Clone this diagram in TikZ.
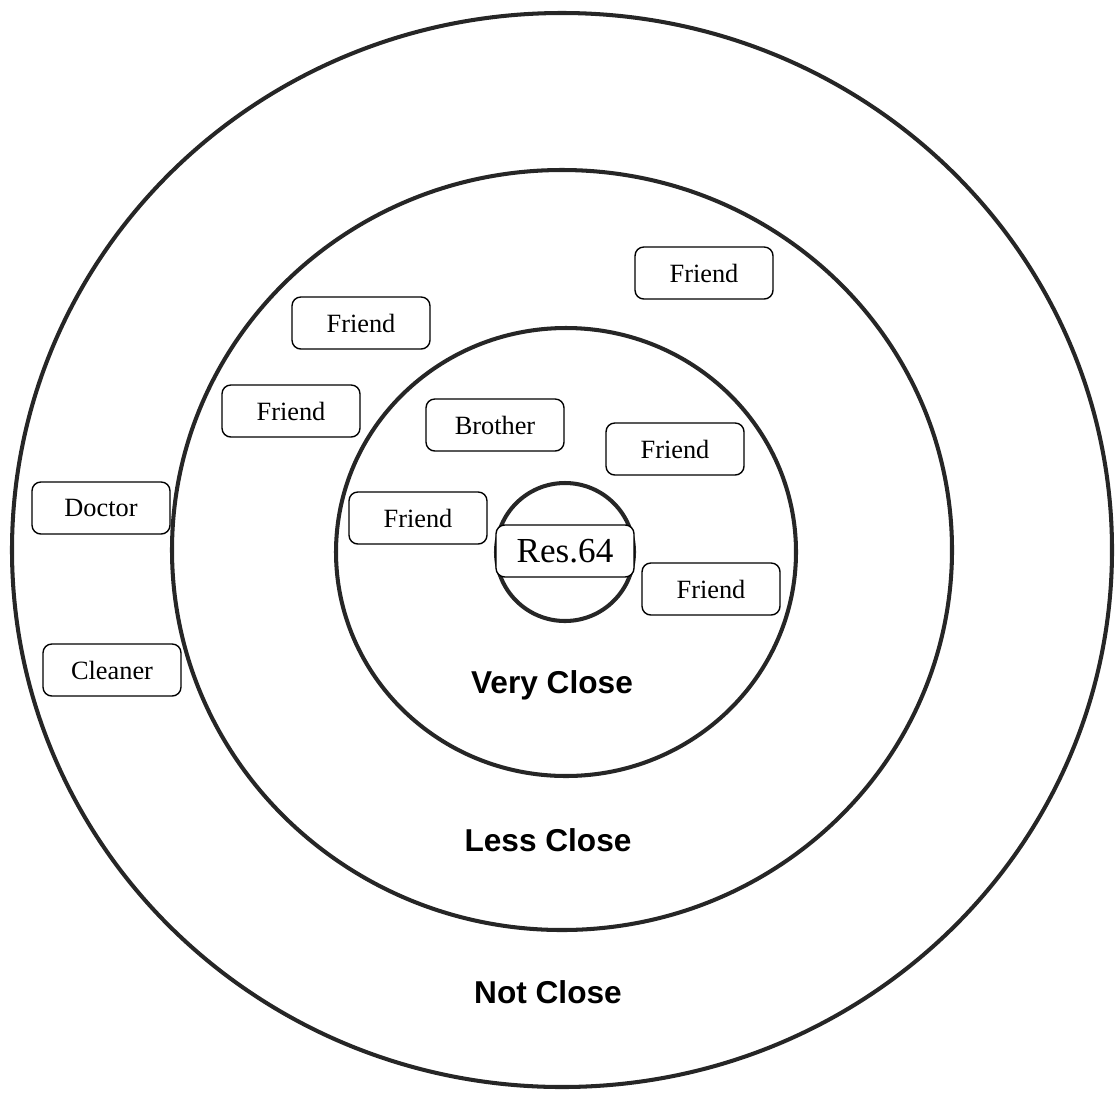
\documentclass[tikz,border=0pt]{standalone}
\usepackage{fontspec}
\setmainfont{Liberation Serif}
\setsansfont{Liberation Sans}
\usetikzlibrary{positioning}

\tikzset{
  ring/.style={line width=2.3pt, black!85},
  tag/.style={draw, line width=0.8pt, rounded corners=5pt, fill=white,
    minimum width=2.76cm, minimum height=1.04cm, font=\fontsize{15}{18}\selectfont},
  zone/.style={font=\sffamily\bfseries\fontsize{18}{21}\selectfont}
}

\begin{document}
\begin{tikzpicture}[x=0.02cm, y=-0.02cm]

% Page frame (pixel grid of the reference)
\useasboundingbox (0,0) rectangle (1118,1109);

% Rings, outside in
\draw[ring] (562,550) ellipse [x radius=550, y radius=537];
\draw[ring] (562,550) ellipse [x radius=390, y radius=380];
\draw[ring] (566,552) ellipse [x radius=230, y radius=224];
\draw[ring] (565,552) ellipse [x radius=69, y radius=69];

% Zone labels
\node[zone] (veryclose) at (552,685) {Very Close};
\node[zone] (lessclose) at (548,840) {Less Close};
\node[zone] (notclose)  at (548,992) {Not Close};

% People
\node[tag, font=\fontsize{20}{24}\selectfont] (res) at (565,551) {Res.64};
\node[tag] (brother) at (495,425) {Brother};
\node[tag] (friendA) at (704,273) {Friend};
\node[tag] (friendB) at (361,323) {Friend};
\node[tag] (friendC) at (291,411) {Friend};
\node[tag] (friendD) at (675,449) {Friend};
\node[tag] (friendE) at (418,518) {Friend};
\node[tag] (friendF) at (711,589) {Friend};
\node[tag] (doctor)  at (101,508) {Doctor};
\node[tag] (cleaner) at (112,670) {Cleaner};

\end{tikzpicture}
\end{document}
